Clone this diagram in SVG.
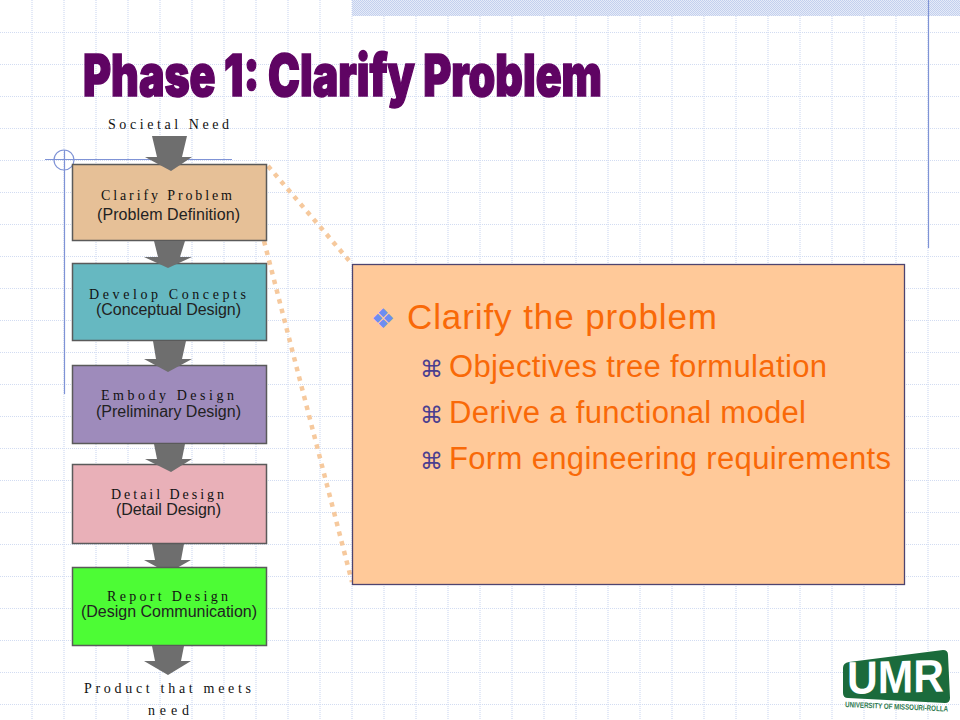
<svg xmlns="http://www.w3.org/2000/svg" width="960" height="720" viewBox="0 0 960 720">
<style>
.grid line{stroke:#d2dcf2;stroke-width:1;stroke-dasharray:1 1}
.gv line{stroke:#d2dcf2;stroke-width:2;stroke-dasharray:1 1;opacity:.6}
.box{stroke:#5a5a5a;stroke-width:1.5}
.ser{font-family:"Liberation Serif",serif;font-size:14px;fill:#111}
.san{font-family:"Liberation Sans",sans-serif;font-size:16px;fill:#222}
.arrow{fill:#6e6e6e}
.dot{fill:none;stroke:#f6c99d;stroke-width:4.5;stroke-dasharray:4.5 5.5}
.sub{font-family:"Liberation Sans",sans-serif;font-size:31px;fill:#f96908}
.cmd{font-family:"DejaVu Sans",sans-serif;font-size:23px;fill:#4b3f8f}
</style>
<rect width="960" height="720" fill="#fff"/>
<defs><pattern id="dither" width="2" height="2" patternUnits="userSpaceOnUse"><rect width="2" height="2" fill="#e6ebf8"/><rect width="1" height="1" fill="#c3d0ee"/><rect x="1" y="1" width="1" height="1" fill="#c3d0ee"/></pattern></defs>
<g id="grid" class="grid">
<line x1="0" y1="32.5" x2="960" y2="32.5"/><line x1="0" y1="64.5" x2="960" y2="64.5"/><line x1="0" y1="96.5" x2="960" y2="96.5"/><line x1="0" y1="128.5" x2="960" y2="128.5"/><line x1="0" y1="160.5" x2="960" y2="160.5"/><line x1="0" y1="192.5" x2="960" y2="192.5"/><line x1="0" y1="224.5" x2="960" y2="224.5"/><line x1="0" y1="256.5" x2="960" y2="256.5"/><line x1="0" y1="288.5" x2="960" y2="288.5"/><line x1="0" y1="320.5" x2="960" y2="320.5"/><line x1="0" y1="352.5" x2="960" y2="352.5"/><line x1="0" y1="384.5" x2="960" y2="384.5"/><line x1="0" y1="416.5" x2="960" y2="416.5"/><line x1="0" y1="448.5" x2="960" y2="448.5"/><line x1="0" y1="480.5" x2="960" y2="480.5"/><line x1="0" y1="512.5" x2="960" y2="512.5"/><line x1="0" y1="544.5" x2="960" y2="544.5"/><line x1="0" y1="576.5" x2="960" y2="576.5"/><line x1="0" y1="608.5" x2="960" y2="608.5"/><line x1="0" y1="640.5" x2="960" y2="640.5"/><line x1="0" y1="672.5" x2="960" y2="672.5"/><line x1="0" y1="704.5" x2="960" y2="704.5"/>
</g>
<g id="grid-v" class="gv">
<line x1="32" y1="0" x2="32" y2="720"/><line x1="64" y1="0" x2="64" y2="720"/><line x1="96" y1="0" x2="96" y2="720"/><line x1="128" y1="0" x2="128" y2="720"/><line x1="160" y1="0" x2="160" y2="720"/><line x1="192" y1="0" x2="192" y2="720"/><line x1="224" y1="0" x2="224" y2="720"/><line x1="256" y1="0" x2="256" y2="720"/><line x1="288" y1="0" x2="288" y2="720"/><line x1="320" y1="0" x2="320" y2="720"/><line x1="352" y1="0" x2="352" y2="720"/><line x1="384" y1="0" x2="384" y2="720"/><line x1="416" y1="0" x2="416" y2="720"/><line x1="448" y1="0" x2="448" y2="720"/><line x1="480" y1="0" x2="480" y2="720"/><line x1="512" y1="0" x2="512" y2="720"/><line x1="544" y1="0" x2="544" y2="720"/><line x1="576" y1="0" x2="576" y2="720"/><line x1="608" y1="0" x2="608" y2="720"/><line x1="640" y1="0" x2="640" y2="720"/><line x1="672" y1="0" x2="672" y2="720"/><line x1="704" y1="0" x2="704" y2="720"/><line x1="736" y1="0" x2="736" y2="720"/><line x1="768" y1="0" x2="768" y2="720"/><line x1="800" y1="0" x2="800" y2="720"/><line x1="832" y1="0" x2="832" y2="720"/><line x1="864" y1="0" x2="864" y2="720"/><line x1="896" y1="0" x2="896" y2="720"/><line x1="928" y1="0" x2="928" y2="720"/>
</g>
<rect x="352" y="0" width="608" height="16" fill="url(#dither)"/>
<g id="accent" fill="none" stroke="#7f93d6" stroke-width="1.2">
<line x1="928.5" y1="0" x2="928.5" y2="248"/>
<line x1="64.5" y1="150" x2="64.5" y2="394"/>
<line x1="45" y1="159.5" x2="232" y2="159.5"/>
<circle cx="64" cy="160" r="10"/>
</g>
<text x="83" y="96" textLength="519" lengthAdjust="spacingAndGlyphs" font-family="Inter,'Liberation Sans',sans-serif" font-size="58" font-weight="900" fill="#5f0463" stroke="#5f0463" stroke-width="1.6">Phase 1: Clarify Problem</text>
<g id="zoom-lines" class="dot">
<line x1="268" y1="166" x2="352" y2="264"/>
<line x1="264" y1="241" x2="352" y2="582"/>
</g>
<polygon class="arrow" points="152,544 184,544 181,560 191,560 168,573 144,560 155,560"/>
<g id="societal-need"><text class="ser" x="108" y="129" textLength="121" lengthAdjust="spacing">Societal Need</text></g>
<g id="clarify"><rect class="box" x="72.5" y="164.5" width="194" height="76" fill="#e6c097"/>
<text class="ser" x="101" y="200" textLength="131" lengthAdjust="spacing">Clarify Problem</text><text class="san" x="97" y="220" textLength="143" lengthAdjust="spacing">(Problem Definition)</text></g>
<g id="develop"><rect class="box" x="72.5" y="263.5" width="194" height="77" fill="#66b8c1"/>
<text class="ser" x="89" y="299" textLength="157" lengthAdjust="spacing">Develop Concepts</text><text class="san" x="96" y="315" textLength="145" lengthAdjust="spacing">(Conceptual Design)</text></g>
<g id="embody"><rect class="box" x="72.5" y="365.5" width="194" height="78" fill="#9e8bbb"/>
<text class="ser" x="101" y="400" textLength="133" lengthAdjust="spacing">Embody Design</text><text class="san" x="96" y="417" textLength="145" lengthAdjust="spacing">(Preliminary Design)</text></g>
<g id="detail"><rect class="box" x="72.5" y="464.5" width="194" height="79" fill="#e9b0b8"/>
<text class="ser" x="111" y="499" textLength="113" lengthAdjust="spacing">Detail Design</text><text class="san" x="116" y="515" textLength="105" lengthAdjust="spacing">(Detail Design)</text></g>
<g id="report"><rect class="box" x="72.5" y="567.5" width="194" height="78" fill="#4dfc35"/>
<text class="ser" x="107" y="601" textLength="121" lengthAdjust="spacing">Report Design</text><text class="san" x="81" y="617" textLength="176" lengthAdjust="spacing">(Design Communication)</text></g>
<g id="product"><text class="ser" x="84" y="693" textLength="167" lengthAdjust="spacing">Product that meets</text><text class="ser" x="148" y="715" textLength="41" lengthAdjust="spacing">need</text></g>
<g id="connectors" class="arrow">
<polygon points="152,136 187,136 182,157 192,157 171,171 145,157 157,157"/>
<polygon points="154,241 185,241 180,257 192,257 168,268 144,257 158,257"/>
<polygon points="153,341 186,341 182,359 192,359 168,372 144,359 156,359"/>
<polygon points="154,444 185,444 182,459 192,459 171,472 145,459 157,459"/>
<polygon points="152,646 184,646 181,661 191,661 168,675 144,661 155,661"/>
</g>
<g id="callout">
<rect x="352.5" y="264.5" width="552" height="320" fill="#ffc999" stroke="#4d4470" stroke-width="1.3"/>
<text x="371" y="328" font-family="'DejaVu Sans',sans-serif" font-size="27" fill="#6c8df2">❖</text>
<text x="407" y="329" textLength="310" lengthAdjust="spacing" font-family="'Liberation Sans',sans-serif" font-size="35" fill="#f96908">Clarify the problem</text>
<text class="cmd" x="420" y="377">⌘</text><text class="sub" x="449" y="377" textLength="378" lengthAdjust="spacing">Objectives tree formulation</text>
<text class="cmd" x="420" y="423">⌘</text><text class="sub" x="449" y="423" textLength="357" lengthAdjust="spacing">Derive a functional model</text>
<text class="cmd" x="420" y="469">⌘</text><text class="sub" x="449" y="469" textLength="442" lengthAdjust="spacing">Form engineering requirements</text>
</g>
<g id="logo">
<path d="M849,662 L943,650 Q948,650 948,655 L950,698 Q950,703 945,703 L848,698 Q843,698 843,693 L843,668 Q843,663 849,662 Z" fill="#1b6b3c"/>
<text transform="translate(847,694) skewY(-1.5)" textLength="97" lengthAdjust="spacingAndGlyphs" font-family="'Liberation Sans',sans-serif" font-size="46" font-weight="700" fill="#fff">UMR</text>
<text transform="translate(845,707) rotate(2.5) scale(1,1.3)" textLength="103" lengthAdjust="spacingAndGlyphs" font-family="'Liberation Sans',sans-serif" font-size="6" font-weight="700" fill="#2f7a4e">UNIVERSITY OF MISSOURI-ROLLA</text>
</g>
</svg>
